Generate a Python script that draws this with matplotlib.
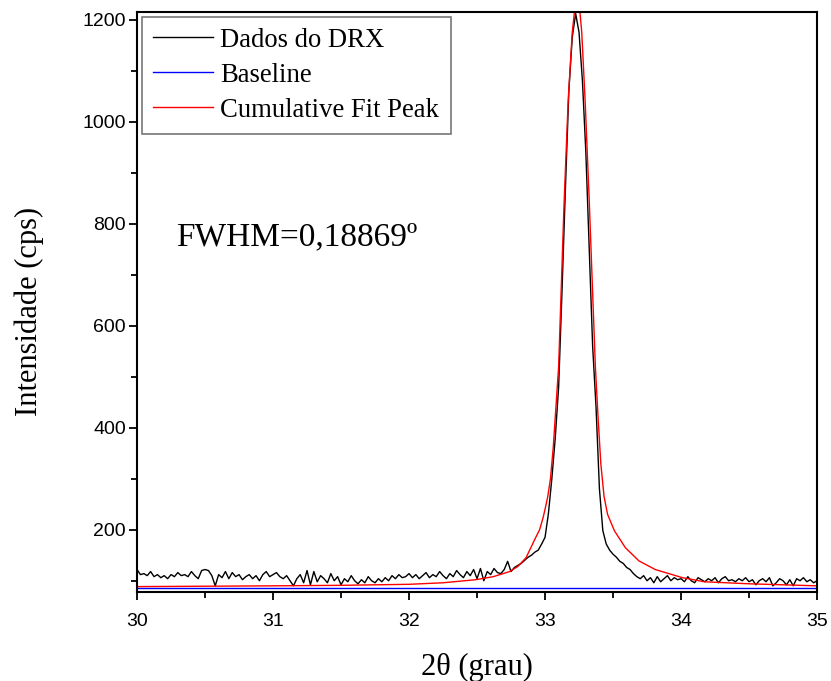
import numpy as np
import matplotlib.pyplot as plt

two_theta_start = 30.0
two_theta_step = 0.025
intensity = [
    # 30.000 - 30.975
    122, 112, 114, 110, 118, 108, 112, 106, 110, 104, 112, 108, 116, 110, 112, 108, 118, 110, 104, 120,
    122, 120, 110, 90, 112, 106, 118, 104, 116, 108, 112, 102, 108, 112, 104, 110, 100, 112, 118, 108,
    # 31.000 - 31.975
    112, 116, 108, 104, 110, 100, 90, 104, 112, 96, 120, 92, 118, 98, 110, 104, 96, 114, 100, 108,
    92, 104, 98, 110, 100, 94, 102, 96, 108, 100, 96, 104, 98, 106, 100, 110, 104, 112, 106, 108,
    # 32.000 - 32.975
    114, 106, 112, 104, 110, 116, 106, 112, 108, 118, 110, 104, 114, 108, 120, 112, 106, 118, 110, 122,
    104, 124, 100, 118, 112, 124, 116, 114, 122, 138, 118, 126, 130, 134, 140, 146, 150, 156, 160, 172,
    # 33.000 - 33.975
    185, 232, 300, 380, 480, 670, 870, 1060, 1165, 1212, 1175, 1080, 940, 750, 560, 440, 280, 198, 172, 160,
    152, 146, 138, 134, 126, 122, 114, 108, 104, 110, 100, 106, 96, 108, 98, 104, 110, 100, 106, 102,
    # 34.000 - 35.000
    104, 98, 108, 100, 96, 106, 102, 98, 104, 100, 106, 96, 104, 108, 100, 102, 98, 104, 100, 106,
    98, 102, 92, 100, 104, 98, 106, 90, 96, 104, 100, 92, 102, 90, 104, 100, 106, 98, 102, 96, 100,
]

# cumulative fit peak
fit_x = [30.0, 31.0, 31.5, 32.0, 32.25, 32.49, 32.62, 32.74, 32.80, 32.86, 32.93, 32.96, 32.985, 33.0,
         33.02, 33.04, 33.06, 33.10, 33.14, 33.17, 33.20, 33.2165, 33.2365, 33.2565, 33.27, 33.295,
         33.325, 33.37, 33.39, 33.41, 33.434, 33.46, 33.51, 33.59, 33.69, 33.81, 34.01, 34.17, 34.5, 35.0]
fit_y = [88.5, 90, 91, 93, 96, 102, 108, 118, 128, 145, 184, 200, 223, 240,
         265, 300, 360, 520, 840, 1040, 1175, 1215, 1245, 1215, 1175, 1040,
         845, 520, 420, 330, 265, 230, 198, 165, 139, 122, 106, 98, 94, 90]

baseline_x = [30.0, 35.0]
baseline_y = [86, 86]

fwhm_text = "FWHM=0,18869º"

x_data = two_theta_start + two_theta_step * np.arange(len(intensity))

fig = plt.figure(figsize=(8.31, 6.81), dpi=100)
ax = fig.add_axes([0.1649, 0.130, 0.8183, 0.8524])

ax.plot(x_data, intensity, color="black", lw=1.0, label="Dados do DRX")
ax.plot(baseline_x, baseline_y, color="#0000ff", lw=1.0, label="Baseline")
ax.plot(fit_x, fit_y, color="#ff0000", lw=1.0, label="Cumulative Fit Peak")

ax.set_xlim(30, 35)
ax.set_ylim(77, 1215)
ax.set_xticks([30, 31, 32, 33, 34, 35])
ax.set_xticks(np.arange(30.5, 35, 1.0), minor=True)
ax.set_yticks([200, 400, 600, 800, 1000, 1200])
ax.set_yticks([100, 300, 500, 700, 900, 1100], minor=True)

ax.tick_params(which="both", direction="out", top=False, right=False, width=1.3)
ax.tick_params(which="major", length=6)
ax.tick_params(which="minor", length=4)
ax.tick_params(axis="x", which="major", pad=9)
ax.tick_params(axis="y", which="major", pad=2)
for lab in ax.get_xticklabels() + ax.get_yticklabels():
    lab.set_fontfamily("Liberation Sans")
    lab.set_fontsize(14)
for sp in ax.spines.values():
    sp.set_linewidth(1.5)

serif = "Liberation Serif"
ax.set_xlabel("2θ (grau)", fontfamily=serif, fontsize=22, labelpad=16)
ax.set_ylabel("Intensidade (cps)", fontfamily=serif, fontsize=22)
ax.yaxis.set_label_coords(-0.137, 0.484)

ax.text(0.057, 0.612, fwhm_text, transform=ax.transAxes, fontfamily=serif,
        fontsize=24, va="center", ha="left")

leg = ax.legend(loc="upper left", bbox_to_anchor=(0.007, 0.992), borderaxespad=0,
                prop={"family": serif, "size": 19.2}, frameon=True, fancybox=False,
                handlelength=2.25, handletextpad=0.28, labelspacing=0.37,
                borderpad=0.42)
leg.get_frame().set_edgecolor("#555555")
leg.get_frame().set_linewidth(1.2)

fig.savefig("out.png", dpi=100)
